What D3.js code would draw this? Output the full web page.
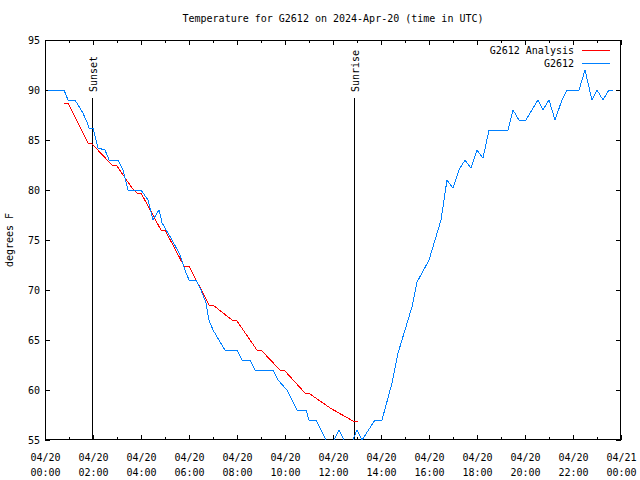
<!DOCTYPE html>
<html><head><meta charset="utf-8">
<script src="https://cdn.jsdelivr.net/npm/d3@7"></script>
<style>
body{margin:0;background:#fff}
text{font-family:"DejaVu Sans Mono","Liberation Mono",monospace;font-size:10px;fill:#000}
</style>
</head><body>
<svg id="chart" width="640" height="480"></svg>
<script>
// ---- data (hours since 2024-04-20 00:00 UTC, degrees F) ----
const obsHours = [0.13,0.79,0.96,1.25,1.58,1.75,1.83,2.0,2.21,2.5,2.67,3.04,3.25,3.46,4.0,4.29,4.5,4.75,4.88,5.29,5.63,5.83,
  6.0,6.29,6.5,6.71,6.83,7.0,7.5,8.0,8.21,8.54,8.75,9.5,9.71,10.08,10.5,10.875,11.0,11.29,11.71,11.875,12.04,12.25,12.46,12.67,12.83,
  13.0,13.21,13.75,14.04,14.46,14.71,15.0,15.29,15.5,15.71,16.0,16.25,16.5,16.75,17.0,17.25,17.5,17.75,18.0,18.25,18.5,19.29,19.5,
  19.75,20.04,20.54,20.75,21.0,21.25,21.54,21.75,22.25,22.5,22.79,23.0,23.25,23.5,23.67];
const obsTemps = [90,90,89,89,87.7,86.8,86.2,86.2,84.2,84,83,83,82,80,80,79,77,78,76.7,75,73.5,72,
  71,71,70,68.7,67,66,64,64,63,63,62,62,61,60,58,58,57,57,55,54,55,56,55,54,55,
  56,55,57,57,60.7,63.7,66,68.3,70.8,71.7,73,75,77,81,80.2,82,83,82.2,84,83.2,86,86,88,
  87,87,89,88,89,87,89,90,90,92,89,90,89,90,90];
const anaHours = [0.79,0.96,1.79,1.96,2.79,3.0,3.625,3.83,4.0,4.83,5.0,5.79,6.0,6.83,7.0,7.79,8.0,8.83,9.04,9.79,10.0,
  10.83,11.04,11.88,12.83,13.04];
const anaTemps = [88.7,88.7,84.7,84.6,82.5,82.4,80.2,79.7,79.7,76,76,72.4,72.4,68.5,68.5,67,66.9,64,63.9,62,61.9,
  59.7,59.6,58.2,56.9,56.9];
const xTickHours = [0,2,4,6,8,10,12,14,16,18,20,22,24];
const xTickDates = ["04/20","04/20","04/20","04/20","04/20","04/20","04/20","04/20","04/20","04/20","04/20","04/20","04/21"];
const xTickTimes = ["00:00","02:00","04:00","06:00","08:00","10:00","12:00","14:00","16:00","18:00","20:00","22:00","00:00"];
const xMinorHours = d3.range(0,25,1);
const yTicks = [55,60,65,70,75,80,85,90,95];
const sunLabels = ["Sunset","Sunrise"];
const sunHours = [1.958,12.875];
const seriesNames = ["G2612 Analysis","G2612"];
const seriesColors = ["#ff0000","#0080ff"];
const titleText = "Temperature for G2612 on 2024-Apr-20 (time in UTC)";
const yLabel = "degrees F";

// ---- layout ----
const L=45,R=621,T=40,B=440;
const svg = d3.select("#chart");
const x = d3.scaleLinear().domain([0,24]).range([L,R]);
const y = d3.scaleLinear().domain([55,95]).range([B,T]);

svg.append("defs").append("clipPath").attr("id","plot")
  .append("rect").attr("x",L).attr("y",T).attr("width",R-L).attr("height",B-T);

// title
svg.append("text").attr("x",333).attr("y",22).attr("text-anchor","middle").text(titleText);
// y label
svg.append("text").attr("transform","translate(13,240) rotate(-90)").attr("text-anchor","middle").text(yLabel);

// axes
const ax = svg.append("g").attr("shape-rendering","crispEdges");
ax.append("g").attr("transform",`translate(${L},0)`)
  .call(d3.axisLeft(y).tickValues(yTicks).tickSizeInner(-5).tickSizeOuter(0).tickPadding(5).tickFormat(d3.format("d")));
ax.append("g").attr("transform",`translate(${R},0)`)
  .call(d3.axisRight(y).tickValues(yTicks).tickSizeInner(-5).tickSizeOuter(0).tickFormat(""));
ax.append("g").attr("transform",`translate(0,${B})`)
  .call(d3.axisBottom(x).tickValues(xMinorHours).tickSizeInner(-3).tickSizeOuter(0).tickFormat(""));
ax.append("g").attr("transform",`translate(0,${T})`)
  .call(d3.axisTop(x).tickValues(xMinorHours).tickSizeInner(-3).tickSizeOuter(0).tickFormat(""));
const xb = ax.append("g").attr("transform",`translate(0,${B})`)
  .call(d3.axisBottom(x).tickValues(xTickHours).tickSizeInner(-5).tickSizeOuter(0).tickFormat(""));
ax.append("g").attr("transform",`translate(0,${T})`)
  .call(d3.axisTop(x).tickValues(xTickHours).tickSizeInner(-5).tickSizeOuter(0).tickFormat(""));
ax.selectAll(".domain").remove();
ax.selectAll("text").style("font-family",null).style("font-size",null).attr("font-family",null).attr("font-size",null);
ax.selectAll("line").attr("stroke","#000");
xb.selectAll(".tick").each(function(d,i){
  const t = d3.select(this).append("text").attr("text-anchor","middle");
  t.append("tspan").attr("x",0).attr("y",21).text(xTickDates[i]);
  t.append("tspan").attr("x",0).attr("y",36).text(xTickTimes[i]);
});
svg.append("rect").attr("x",L+0.5).attr("y",T+0.5).attr("width",R-L-1).attr("height",B-T-1)
  .attr("fill","none").attr("stroke","#000").attr("shape-rendering","crispEdges");

// sun lines
sunHours.forEach((h,i)=>{
  const sx = Math.round(x(h))+0.5;
  svg.append("line").attr("x1",sx).attr("x2",sx).attr("y1",y(89.2)).attr("y2",B)
    .attr("stroke","#000").attr("shape-rendering","crispEdges");
  svg.append("text").attr("transform",`translate(${sx+4},${y(89.2)-6}) rotate(-90)`)
    .attr("text-anchor","start").text(sunLabels[i]);
});

// series
const line = d3.line().x(d=>x(d[0])).y(d=>y(d[1]));
const g = svg.append("g").attr("clip-path","url(#plot)");
g.append("path").datum(anaHours.map((h,i)=>[h,anaTemps[i]]))
  .attr("d",line).attr("fill","none").attr("stroke",seriesColors[0]).attr("stroke-width",1)
  .attr("shape-rendering","crispEdges");
g.append("path").datum(obsHours.map((h,i)=>[h,obsTemps[i]]))
  .attr("d",line).attr("fill","none").attr("stroke",seriesColors[1]).attr("stroke-width",1)
  .attr("shape-rendering","crispEdges");

// legend
seriesNames.forEach((n,i)=>{
  const ly = 50 + i*13;
  svg.append("text").attr("x",574).attr("y",ly+3.5).attr("text-anchor","end").text(n);
  svg.append("line").attr("x1",582).attr("x2",610).attr("y1",ly+0.5).attr("y2",ly+0.5)
    .attr("stroke",seriesColors[i]).attr("shape-rendering","crispEdges");
});
</script>
</body></html>
